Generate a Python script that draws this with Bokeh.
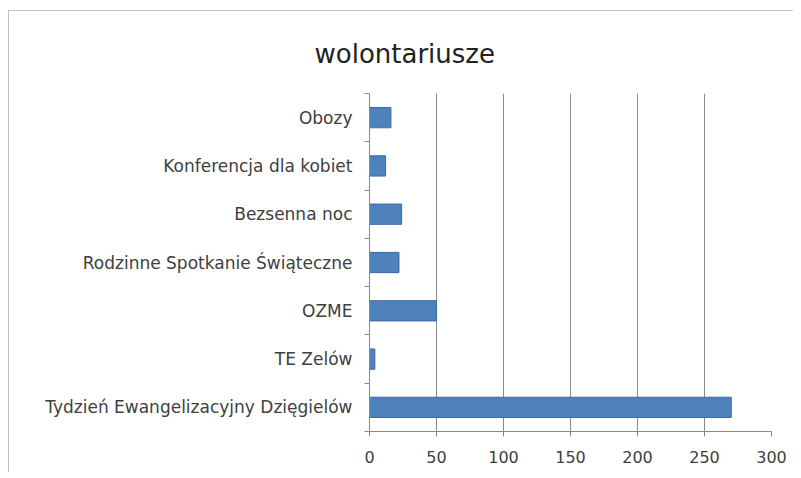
from bokeh.plotting import figure
from bokeh.models import (Range1d, LinearAxis, FixedTicker, Title,
                          ColumnDataSource, CustomJSTickFormatter)
from bokeh.embed import file_html
from bokeh.resources import INLINE

# ---- data (top to bottom as shown) ----
categories = ["Obozy", "Konferencja dla kobiet", "Bezsenna noc",
              "Rodzinne Spotkanie Świąteczne", "OZME", "TE Zelów",
              "Tydzień Ewangelizacyjny Dzięgielów"]
values = [16, 12, 24, 22, 50, 4, 270]
x_ticks = [0, 50, 100, 150, 200, 250, 300]
title_text = "wolontariusze"

FONT = "DejaVu Sans"
GRID = "#8a8a8a"
TEXT = "#404040"

n = len(categories)
# category slot positions (top category at the top)
ypos = [n - i - 0.5 for i in range(n)]
src = ColumnDataSource(dict(y=ypos, val=values, cat=categories))

p = figure(width=785, height=462, output_backend="svg", toolbar_location=None,
           y_range=Range1d(0, n), x_range=Range1d(0, 300),
           x_axis_location=None, y_axis_location=None,
           margin=(10, 0, 0, 8),
           min_border_left=360, min_border_right=23,
           min_border_top=82, min_border_bottom=42)
p.outline_line_color = None
p.background_fill_color = "white"
p.border_fill_color = "white"
p.styles = {"border-top": "1px solid #c0c0c0", "border-left": "1px solid #c0c0c0"}

p.hbar(y="y", right="val", left=0, height=0.42, source=src,
       fill_color="#4F81BD", line_color="#3D6BA6", line_width=1)

# x axis
xa = LinearAxis(ticker=FixedTicker(ticks=x_ticks))
xa.axis_line_color = GRID
xa.major_tick_line_color = GRID
xa.major_tick_out = 5
xa.major_tick_in = 0
xa.minor_tick_line_color = None
xa.major_label_text_font = FONT
xa.major_label_text_font_size = "16px"
xa.major_label_text_color = TEXT
xa.major_label_standoff = 14
p.add_layout(xa, "below")

# vertical gridlines
p.xgrid.ticker = FixedTicker(ticks=x_ticks)
p.xgrid.grid_line_color = GRID
p.ygrid.grid_line_color = None

# y axis: labels at slot centres, tick marks at slot boundaries
ya = LinearAxis(ticker=FixedTicker(ticks=ypos, minor_ticks=list(range(n + 1))),
                formatter=CustomJSTickFormatter(args=dict(labels=categories, n=n),
                                                code="return labels[n - 1 - Math.floor(tick)];"))
ya.axis_line_color = GRID
ya.major_tick_line_color = None
ya.minor_tick_line_color = GRID
ya.minor_tick_out = 5
ya.minor_tick_in = 0
ya.major_tick_out = 5
ya.major_tick_in = 0
ya.major_label_text_font = FONT
ya.major_label_text_font_size = "17px"
ya.major_label_text_color = TEXT
ya.major_label_standoff = 12
p.add_layout(ya, "left")

# title
t = Title(text=title_text, align="left", offset=-55, standoff=50,
          text_font=FONT, text_font_size="26px", text_font_style="normal",
          text_color="#222222")
p.add_layout(t, "above")

open("out.html", "w").write(file_html(p, INLINE))
